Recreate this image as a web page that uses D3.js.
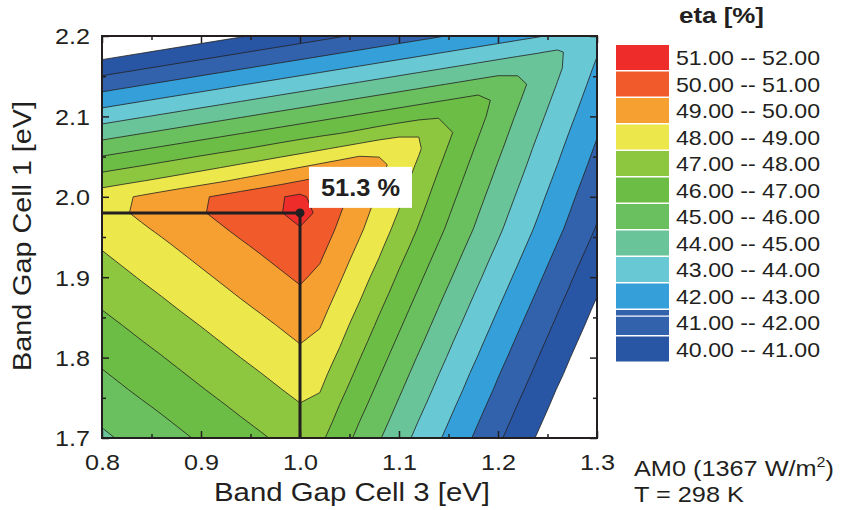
<!DOCTYPE html>
<html>
<head>
<meta charset="utf-8">
<title>Triple-junction efficiency map</title>
<script src="https://cdn.jsdelivr.net/npm/d3@7/dist/d3.min.js"></script>
<style>
  html, body { margin: 0; padding: 0; background: #fff; }
  svg { display: block; font-family: "Liberation Sans", Arial, sans-serif; }
</style>
</head>
<body>
<svg id="chart" width="848" height="510"></svg>
<script>
// Grid nodes: band gap of cell 3 (columns) and of cell 1 (rows), in eV
const cell3Gap = [0.80, 0.82, 0.84, 0.86, 0.88, 0.90, 0.92, 0.94, 0.96, 0.98, 1.00, 1.02, 1.04,
                  1.06, 1.08, 1.10, 1.12, 1.14, 1.16, 1.18, 1.20, 1.22, 1.24, 1.26, 1.28, 1.30];
const cell1Gap = [1.70, 1.72, 1.74, 1.76, 1.78, 1.80, 1.82, 1.84, 1.86, 1.88, 1.90, 1.92, 1.94,
                  1.96, 1.98, 2.00, 2.02, 2.04, 2.06, 2.08, 2.10, 2.12, 2.14, 2.16, 2.18, 2.20];

// Efficiency eta [%]: one row per cell-1 gap (1.70 eV first), one value per cell-3 gap
const etaRows = [
  [44.83,45.09,45.35,45.60,45.86,46.12,46.38,46.64,46.89,47.15,47.41,47.20,46.46,45.76,45.07,44.40,43.74,43.10,42.44,41.79,41.15,40.53,39.92,39.32,38.71,38.10],
  [45.10,45.36,45.62,45.87,46.13,46.39,46.65,46.91,47.16,47.42,47.68,47.49,46.72,46.00,45.32,44.64,43.97,43.33,42.68,42.02,41.38,40.75,40.14,39.53,38.93,38.32],
  [45.37,45.63,45.89,46.14,46.40,46.66,46.92,47.18,47.43,47.69,47.95,47.77,46.98,46.26,45.56,44.88,44.21,43.56,42.91,42.25,41.61,40.97,40.36,39.75,39.14,38.54],
  [45.65,45.91,46.17,46.42,46.68,46.94,47.20,47.46,47.71,47.97,48.23,48.05,47.26,46.51,45.81,45.12,44.45,43.79,43.15,42.49,41.84,41.20,40.57,39.96,39.36,38.75],
  [45.92,46.18,46.44,46.69,46.95,47.21,47.47,47.73,47.98,48.24,48.50,48.30,47.54,46.77,46.06,45.36,44.68,44.02,43.37,42.72,42.06,41.42,40.80,40.19,39.58,38.97],
  [46.19,46.45,46.71,46.96,47.22,47.48,47.74,48.00,48.25,48.51,48.77,48.55,47.83,47.04,46.31,45.61,44.92,44.26,43.60,42.96,42.30,41.65,41.02,40.40,39.79,39.19],
  [46.46,46.72,46.98,47.23,47.49,47.75,48.01,48.27,48.52,48.78,49.04,48.80,48.10,47.31,46.56,45.86,45.17,44.49,43.83,43.19,42.53,41.88,41.24,40.62,40.01,39.41],
  [46.73,46.99,47.25,47.50,47.76,48.02,48.28,48.54,48.79,49.05,49.31,49.05,48.35,47.60,46.82,46.11,45.41,44.73,44.07,43.42,42.77,42.11,41.47,40.84,40.23,39.62],
  [47.01,47.27,47.53,47.78,48.04,48.30,48.56,48.82,49.07,49.33,49.59,49.29,48.60,47.88,47.09,46.36,45.66,44.97,44.30,43.65,43.00,42.34,41.70,41.06,40.44,39.83],
  [47.28,47.54,47.80,48.05,48.31,48.57,48.83,49.09,49.34,49.60,49.86,49.54,48.85,48.15,47.37,46.61,45.91,45.21,44.54,43.88,43.24,42.58,41.93,41.29,40.66,40.05],
  [47.55,47.81,48.07,48.32,48.58,48.84,49.10,49.36,49.61,49.87,50.13,49.79,49.10,48.40,47.66,46.87,46.16,45.46,44.78,44.12,43.46,42.82,42.16,41.51,40.88,40.27],
  [47.82,48.08,48.34,48.59,48.85,49.11,49.37,49.63,49.88,50.14,50.40,50.04,49.34,48.65,47.94,47.14,46.41,45.71,45.02,44.35,43.69,43.05,42.39,41.74,41.10,40.49],
  [48.09,48.35,48.61,48.86,49.12,49.38,49.64,49.90,50.15,50.41,50.67,50.29,49.59,48.90,48.20,47.43,46.66,45.96,45.26,44.59,43.93,43.28,42.63,41.97,41.33,40.71],
  [48.37,48.63,48.89,49.14,49.40,49.66,49.92,50.18,50.43,50.69,50.95,50.54,49.84,49.15,48.45,47.71,46.93,46.21,45.51,44.83,44.16,43.51,42.86,42.20,41.56,40.93],
  [48.64,48.90,49.16,49.41,49.67,49.93,50.19,50.45,50.70,50.96,51.30,50.85,50.05,49.35,48.66,47.95,47.16,46.42,45.72,45.03,44.36,43.70,43.06,42.40,41.75,41.11],
  [48.59,48.85,49.11,49.37,49.63,49.89,50.15,50.42,50.68,50.94,51.20,50.60,50.26,49.56,48.87,48.17,47.39,46.63,45.93,45.23,44.56,43.90,43.25,42.60,41.94,41.30],
  [47.53,47.74,47.96,48.18,48.41,48.65,48.90,49.16,49.42,49.69,49.98,50.27,50.47,49.77,49.08,48.38,47.63,46.85,46.14,45.44,44.76,44.10,43.45,42.80,42.14,41.50],
  [46.53,46.73,46.93,47.14,47.35,47.57,47.80,48.04,48.28,48.54,48.80,49.07,49.35,49.65,49.28,48.59,47.87,47.08,46.35,45.65,44.96,44.30,43.64,43.00,42.34,41.69],
  [45.53,45.73,45.93,46.13,46.33,46.53,46.73,46.93,47.15,47.38,47.62,47.87,48.13,48.40,48.68,48.80,48.10,47.31,46.56,45.86,45.17,44.49,43.83,43.19,42.53,41.88],
  [44.53,44.73,44.93,45.13,45.33,45.53,45.73,45.93,46.13,46.33,46.53,46.73,46.93,47.16,47.42,47.68,47.96,47.55,46.78,46.07,45.37,44.69,44.03,43.38,42.73,42.07],
  [43.53,43.73,43.93,44.13,44.33,44.53,44.73,44.93,45.13,45.33,45.53,45.73,45.93,46.13,46.33,46.53,46.73,46.93,47.00,46.28,45.58,44.89,44.23,43.57,42.93,42.27],
  [42.53,42.73,42.93,43.13,43.33,43.53,43.73,43.93,44.13,44.33,44.53,44.73,44.93,45.13,45.33,45.53,45.73,45.93,46.13,46.33,45.79,45.10,44.43,43.77,43.13,42.47],
  [41.53,41.73,41.93,42.13,42.33,42.53,42.73,42.93,43.13,43.33,43.53,43.73,43.93,44.13,44.33,44.53,44.73,44.93,45.13,45.33,45.53,45.30,44.63,43.97,43.32,42.67],
  [40.53,40.73,40.93,41.13,41.33,41.53,41.73,41.93,42.13,42.33,42.53,42.73,42.93,43.13,43.33,43.53,43.73,43.93,44.13,44.33,44.53,44.73,44.83,44.16,43.51,42.86],
  [39.53,39.73,39.93,40.13,40.33,40.53,40.73,40.93,41.13,41.33,41.53,41.73,41.93,42.13,42.33,42.53,42.73,42.93,43.13,43.33,43.53,43.73,43.93,44.13,43.70,43.06],
  [38.53,38.73,38.93,39.13,39.33,39.53,39.73,39.93,40.13,40.33,40.53,40.73,40.93,41.13,41.33,41.53,41.73,41.93,42.13,42.33,42.53,42.73,42.93,43.13,43.33,43.25]
];

// Contour levels and the fill of each 1 % band (40-41 first)
const levels = [40, 41, 42, 43, 44, 45, 46, 47, 48, 49, 50, 51, 52];
const bandColors = ["#2855a4", "#3262ac", "#349fd8", "#68c8d4", "#6ac49a", "#6abf5e",
                    "#6cbd45", "#8dc63f", "#ece84c", "#f7a032", "#f15a2b", "#ee2d2a"];

// Axis ticks
const xTicks = [0.8, 0.9, 1.0, 1.1, 1.2, 1.3];
const xMinorTicks = [0.85, 0.95, 1.05, 1.15, 1.25];
const yTicks = [1.7, 1.8, 1.9, 2.0, 2.1, 2.2];
const yMinorTicks = [1.75, 1.85, 1.95, 2.05, 2.15];

// Best combination
const optimum = { gap3: 1.0, gap1: 1.98, eta: 51.3 };

const ink = "#231f20";
const svg = d3.select("#chart");
const plotL = 102, plotR = 597, plotT = 36, plotB = 438;
const x = d3.scaleLinear().domain([0.8, 1.3]).range([plotL, plotR]);
const y = d3.scaleLinear().domain([1.7, 2.2]).range([plotB, plotT]);

// d3.contours places node k at k + 0.5 in grid units
const nx = cell3Gap.length, ny = cell1Gap.length;
const gridX = d3.scaleLinear().domain([0.5, nx - 0.5]).range([cell3Gap[0], cell3Gap[nx - 1]]);
const gridY = d3.scaleLinear().domain([0.5, ny - 0.5]).range([cell1Gap[0], cell1Gap[ny - 1]]);
const toScreen = d3.geoTransform({
  point(gx, gy) { this.stream.point(x(gridX(gx)), y(gridY(gy))); }
});
const path = d3.geoPath(toScreen);
const bands = d3.contours().size([nx, ny]).thresholds(levels.slice(0, -1))(etaRows.flat());

svg.append("defs").append("clipPath").attr("id", "plotClip")
  .append("rect").attr("x", plotL).attr("y", plotT)
  .attr("width", plotR - plotL).attr("height", plotB - plotT);

const plot = svg.append("g").attr("clip-path", "url(#plotClip)");
plot.selectAll("path.band").data(bands).join("path")
  .attr("class", "band")
  .attr("d", path)
  .attr("fill", (d, i) => bandColors[i]);
plot.selectAll("path.iso").data(bands).join("path")
  .attr("class", "iso")
  .attr("d", path)
  .attr("fill", "none")
  .attr("stroke", ink)
  .attr("stroke-width", 0.8)
  .attr("stroke-linejoin", "round");

// Guide lines to the optimum
plot.append("path")
  .attr("d", d3.line()([[x(0.8), y(optimum.gap1)], [x(optimum.gap3), y(optimum.gap1)], [x(optimum.gap3), y(1.7)]]))
  .attr("fill", "none").attr("stroke", ink).attr("stroke-width", 3);
plot.append("circle")
  .attr("cx", x(optimum.gap3)).attr("cy", y(optimum.gap1)).attr("r", 4.5).attr("fill", ink);

// Value label
const labelBox = svg.append("g").attr("transform", `translate(${x(optimum.gap3) + 9},${y(optimum.gap1) - 46})`);
labelBox.append("rect").attr("width", 103).attr("height", 41).attr("fill", "#fff");
labelBox.append("text").attr("x", 51.5).attr("y", 29).attr("text-anchor", "middle")
  .attr("font-size", 24).attr("font-weight", "bold").attr("fill", ink)
  .attr("textLength", 79).attr("lengthAdjust", "spacingAndGlyphs")
  .text(`${optimum.eta.toFixed(1)} %`);

// Axes: ticks point inward on all four sides
function styleAxis(g) {
  g.select(".domain").remove();
  g.selectAll(".tick line").attr("stroke", ink).attr("stroke-width", 1.5);
  g.selectAll(".tick text").attr("fill", ink).attr("font-size", 22)
    .attr("font-family", '"Liberation Sans", Arial, sans-serif')
    .attr("textLength", 35).attr("lengthAdjust", "spacingAndGlyphs");
}
const fmt = d3.format(".1f");
svg.append("g").attr("transform", `translate(0,${plotB})`)
  .call(d3.axisBottom(x).tickValues(xTicks).tickSize(-7).tickFormat(fmt))
  .call(styleAxis)
  .call(g => g.selectAll(".tick text").attr("y", 32).attr("dy", 0));
svg.append("g").attr("transform", `translate(0,${plotB})`)
  .call(d3.axisBottom(x).tickValues(xMinorTicks).tickSize(-4).tickFormat(""))
  .call(styleAxis);
svg.append("g").attr("transform", `translate(0,${plotT})`)
  .call(d3.axisTop(x).tickValues(xTicks).tickSize(-7).tickFormat(""))
  .call(styleAxis);
svg.append("g").attr("transform", `translate(0,${plotT})`)
  .call(d3.axisTop(x).tickValues(xMinorTicks).tickSize(-4).tickFormat(""))
  .call(styleAxis);
svg.append("g").attr("transform", `translate(${plotL},0)`)
  .call(d3.axisLeft(y).tickValues(yTicks).tickSize(-7).tickFormat(fmt))
  .call(styleAxis)
  .call(g => g.selectAll(".tick text").attr("x", -12).attr("dy", "0.36em"));
svg.append("g").attr("transform", `translate(${plotL},0)`)
  .call(d3.axisLeft(y).tickValues(yMinorTicks).tickSize(-4).tickFormat(""))
  .call(styleAxis);
svg.append("g").attr("transform", `translate(${plotR},0)`)
  .call(d3.axisRight(y).tickValues(yTicks).tickSize(-7).tickFormat(""))
  .call(styleAxis);
svg.append("g").attr("transform", `translate(${plotR},0)`)
  .call(d3.axisRight(y).tickValues(yMinorTicks).tickSize(-4).tickFormat(""))
  .call(styleAxis);

svg.append("rect").attr("x", plotL).attr("y", plotT)
  .attr("width", plotR - plotL).attr("height", plotB - plotT)
  .attr("fill", "none").attr("stroke", ink).attr("stroke-width", 2);

// Axis titles
svg.append("text").attr("x", 352).attr("y", 501).attr("text-anchor", "middle")
  .attr("font-size", 25).attr("fill", ink)
  .attr("textLength", 276).attr("lengthAdjust", "spacingAndGlyphs")
  .text("Band Gap Cell 3 [eV]");
svg.append("text").attr("transform", `translate(31,236) rotate(-90)`)
  .attr("text-anchor", "middle").attr("font-size", 25).attr("fill", ink)
  .attr("textLength", 270).attr("lengthAdjust", "spacingAndGlyphs")
  .text("Band Gap Cell 1 [eV]");

// Legend
const legend = svg.append("g");
legend.append("text").attr("x", 721.5).attr("y", 23).attr("text-anchor", "middle")
  .attr("font-size", 22).attr("font-weight", "bold").attr("fill", ink)
  .attr("textLength", 85).attr("lengthAdjust", "spacingAndGlyphs")
  .text("eta [%]");
const entries = levels.slice(0, -1).map((lo, i) => ({ lo, hi: levels[i + 1], color: bandColors[i] })).reverse();
const row = legend.selectAll("g.entry").data(entries).join("g")
  .attr("class", "entry")
  .attr("transform", (d, k) => `translate(616,${45 + k * 26.5})`);
row.append("rect").attr("width", 53).attr("height", 25).attr("fill", d => d.color);
row.append("text").attr("x", 60).attr("y", 12.5).attr("dy", "0.36em")
  .attr("font-size", 21).attr("fill", ink)
  .attr("textLength", 144).attr("lengthAdjust", "spacingAndGlyphs")
  .text(d => `${d.lo.toFixed(2)} -- ${d.hi.toFixed(2)}`);
// the 41-42 swatch is drawn in two parts
row.filter(d => d.lo === 41).append("rect")
  .attr("y", 5.5).attr("width", 53).attr("height", 1.2).attr("fill", "#fff");

// Conditions
const cond = svg.append("g").attr("fill", ink).attr("font-size", 22);
const am = cond.append("g").attr("transform", "translate(634,476) scale(1.15,1)").append("text");
am.append("tspan").text("AM0 (1367 W/m");
am.append("tspan").attr("dy", -9).attr("font-size", 14).text("2");
am.append("tspan").attr("dy", 9).text(")");
cond.append("g").attr("transform", "translate(634,502) scale(1.15,1)")
  .append("text").text("T = 298 K");
</script>
</body>
</html>
